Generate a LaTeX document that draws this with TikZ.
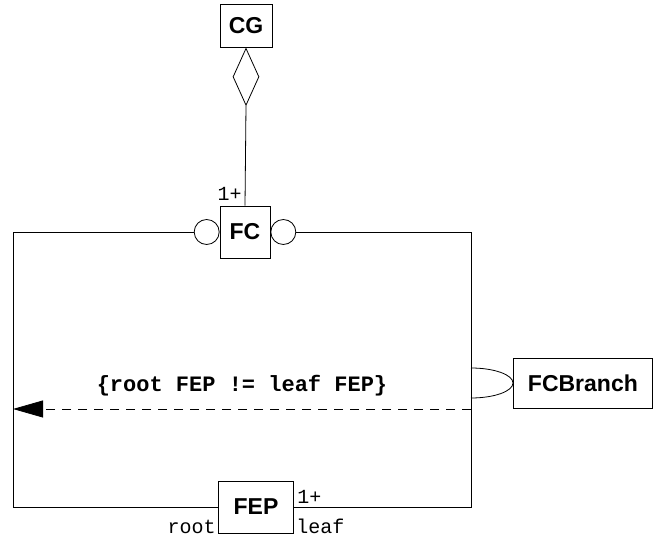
\documentclass[tikz,border=0pt]{standalone}
\usepackage{fontspec}
\setmainfont{Liberation Sans}
\setmonofont{Liberation Mono}
\usepackage{tikz}
\usetikzlibrary{arrows.meta, calc, positioning, shapes.geometric}

\begin{document}
\begin{tikzpicture}[x=1pt, y=-1pt, line width=0.8pt, every node/.style={align=center},
    cls/.style={draw, fill=white, inner sep=0pt, font=\fontsize{23}{26}\selectfont\bfseries},
    ball/.style={draw, circle, minimum size=25pt, inner sep=0pt},
    mult/.style={font=\fontsize{20}{22}\selectfont\ttfamily, inner sep=1pt}]
  \useasboundingbox (0,0) rectangle (654,537);

  \node[cls, minimum width=52pt, minimum height=43pt] (CG) at (246,26) {CG};
  \node[draw, diamond, minimum width=26pt, minimum height=57pt, inner sep=0pt, anchor=north]
    (agg) at (CG.south) {};
  \node[cls, minimum width=50pt, minimum height=52pt] (FC) at (245,232) {FC};
  \node[ball, anchor=east] (ballL) at (FC.west) {};
  \node[ball, anchor=west] (ballR) at (FC.east) {};
  \node[cls, minimum width=75pt, minimum height=52pt] (FEP) at (256,507) {FEP};
  \node[cls, minimum width=139pt, minimum height=50pt, anchor=west] (FCB) at (513,383) {FCBranch};

  \coordinate (lt) at (13,232);
  \coordinate (lb) at (13,507);
  \coordinate (rt) at (471,232);
  \coordinate (rb) at (471,507);
  \coordinate (dR) at (471,409);
  \coordinate (dL) at (13,409);

  \draw (agg.south) -- (FC.north);
  \node[mult, anchor=south east] at ([xshift=-2pt, yshift=4pt]FC.north) {1+};
  \draw (ballL) -- (lt) -- (lb) -- (FEP.west);
  \draw (ballR) -- (rt) -- (rb) -- (FEP.east);
  \node[mult, anchor=south west] at ([xshift=2pt, yshift=2pt]FEP.east) {1+};
  \node[mult, anchor=base east] at ([xshift=-1pt]FEP.south west) {root};
  \node[mult, anchor=base west] at ([xshift=1pt]FEP.south east) {leaf};

  % branch link
  \draw (471,368) arc[start angle=-90, end angle=90, x radius=42, y radius=15];
  \draw[dashed, dash pattern=on 9pt off 7pt, -{Triangle[length=30pt, width=17pt]}] (dR) --
    node[above=9pt, font=\fontsize{22}{24}\selectfont\ttfamily\bfseries]{\{root FEP != leaf FEP\}} (dL);
\end{tikzpicture}
\end{document}
